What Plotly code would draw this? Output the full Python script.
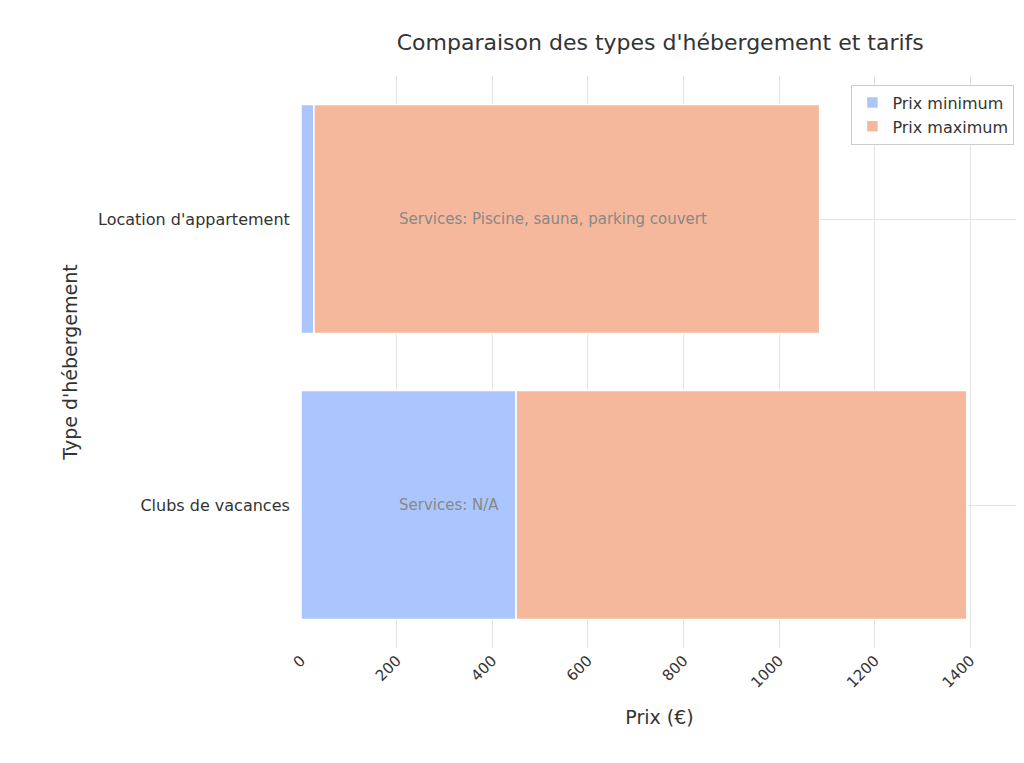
import plotly.graph_objects as go

categories = ["Clubs de vacances", "Location d'appartement"]
prix_min = [450, 27]
prix_max_seg = [943, 1058]
services = ["Services: N/A", "Services: Piscine, sauna, parking couvert"]
tick_vals = [0, 200, 400, 600, 800, 1000, 1200, 1400]

fig = go.Figure()
fig.add_trace(go.Bar(y=categories, x=prix_min, orientation="h", name="Prix minimum",
                     marker=dict(color="#abc6fc", line=dict(color="white", width=1.5)), width=0.8))
fig.add_trace(go.Bar(y=categories, x=prix_max_seg, base=prix_min, orientation="h", name="Prix maximum",
                     marker=dict(color="#f6b89c", line=dict(color="white", width=1.5)), width=0.8))
for c, s in zip(categories, services):
    fig.add_annotation(x=200, y=c, text=s, showarrow=False, xanchor="left",
                       font=dict(size=15, color="#888888"))

fig.update_layout(
    width=1024, height=763, barmode="overlay",
    font=dict(family="DejaVu Sans", color="#333333", size=15),
    paper_bgcolor="white", plot_bgcolor="white",
    margin=dict(l=293, r=14, t=68, b=123),
    title=dict(text="Comparaison des types d'hébergement et tarifs", x=0.637, xanchor="center",
               y=0.965, font=dict(size=22, color="#333333")),
    xaxis=dict(range=[0, 1500], tickvals=tick_vals, tickangle=-45, gridcolor="#e3e3e3",
               zeroline=False, showline=False, ticks="",
               title=dict(text="Prix (€)", font=dict(size=19), standoff=20),
               tickfont=dict(size=15)),
    yaxis=dict(range=[-0.5, 1.5], gridcolor="#e3e3e3", showline=False, ticks="",
               title=dict(text="Type d'hébergement", font=dict(size=19), standoff=15),
               tickfont=dict(size=16), ticksuffix="  "),
    legend=dict(x=0.995, y=0.985, xanchor="right", yanchor="top", bordercolor="#cccccc",
                borderwidth=1, bgcolor="rgba(255,255,255,0.9)", font=dict(size=16)),
)
fig.write_html("out.html")
